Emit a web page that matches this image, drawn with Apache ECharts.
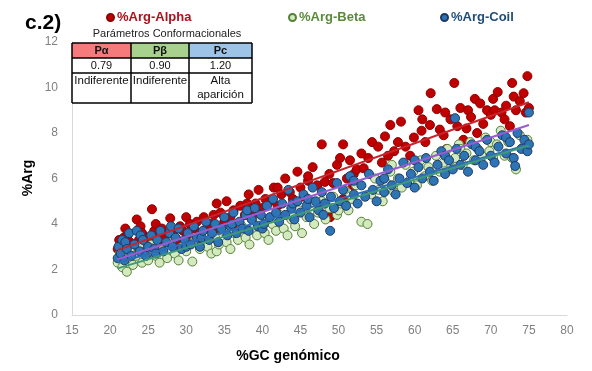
<!DOCTYPE html>
<html>
<head>
<meta charset="utf-8">
<script src="https://cdn.jsdelivr.net/npm/echarts@6/dist/echarts.min.js"></script>
<style>
  html, body { margin: 0; padding: 0; background: #fff; }
  #chart { width: 592px; height: 371px; }
</style>
</head>
<body>
<div id="chart"></div>
<script>
// %Arg per structural class vs. genomic GC content, one [GC, %Arg] pair per genome
const alphaPoints = [
  [21.0,2.9],[21.2,3.3],[21.5,3.1],[21.8,3.4],[22.0,2.7],[22.0,3.8],[22.3,3.5],[22.6,3.2],[23.0,3.0],[23.5,4.2],[23.8,3.3],
  [24.0,3.9],[24.2,3.6],[24.6,2.9],[25.0,3.4],[25.5,4.65],[25.8,3.7],[26.0,4.0],[26.3,3.1],[26.8,3.8],[27.2,3.5],[27.9,4.25],[28.3,3.6],
  [28.8,3.3],[29.2,3.9],[29.6,3.7],[30.0,4.3],[30.1,3.5],[30.5,4.0],[31.0,3.8],[31.4,4.1],[31.8,3.6],[32.3,4.3],[32.8,3.9],
  [33.0,3.5],[33.2,4.0],[33.6,4.4],[34.0,3.7],[34.0,4.9],[34.5,4.5],[35.0,4.1],[35.3,5.0],[35.8,4.3],[36.2,4.6],[36.7,4.0],
  [37.1,4.8],[37.7,4.4],[38.0,4.9],[38.2,5.3],[38.6,4.5],[39.0,4.2],[39.1,4.9],[39.5,5.5],[40.0,4.7],[40.4,5.1],[41.0,5.0],
  [41.5,5.6],[42.0,4.8],[42.0,5.6],[42.5,5.3],[43.0,6.0],[43.6,5.4],[44.0,5.1],[44.5,4.6],[44.6,6.3],[45.0,5.6],[45.5,5.2],
  [46.0,5.9],[46.0,6.1],[46.6,6.5],[47.2,5.7],[47.8,7.5],[48.2,5.85],[48.8,6.2],[48.9,4.3],[49.3,5.8],[49.8,6.6],[50.2,6.9],
  [50.6,7.5],[50.6,5.1],[51.1,6.0],[51.5,6.8],[51.9,5.7],[52.0,6.2],[52.4,6.4],[53.0,7.1],[53.3,6.45],[53.9,6.9],[54.4,7.6],
  [55.2,7.4],[55.7,6.7],[56.1,7.85],[56.5,7.0],[56.8,8.35],[57.3,7.2],[57.8,7.6],[58.2,8.5],[58.8,7.4],[59.4,7.0],[59.9,7.8],
  [60.5,9.0],[60.9,8.1],[61.0,8.6],[61.4,7.6],[62.0,8.35],[62.1,9.75],[62.9,9.05],[63.3,8.15],[63.8,7.9],[64.0,8.9],[64.2,7.3],[64.7,8.6],
  [65.2,10.2],[65.6,8.3],[66.0,9.1],[66.4,7.7],[66.8,8.2],[67.0,9.0],[67.4,8.7],[67.9,9.5],[68.2,8.0],[68.6,9.3],[69.0,8.4],
  [69.5,9.0],[70.0,8.8],[70.3,9.5],[70.5,9.0],[70.9,9.8],[71.4,8.9],[71.8,8.6],[72.0,9.2],[72.5,8.3],[72.8,10.2],[73.0,9.6],[73.3,9.0],
  [73.8,9.4],[74.3,9.75],[74.6,8.9],[74.8,10.5],[75.0,9.1]
];
const betaPoints = [
  [21.0,2.3],[21.3,2.7],[21.6,2.1],[22.0,2.5],[22.2,1.9],[22.6,2.8],[23.0,2.2],[23.4,2.6],[23.8,3.0],[24.2,2.3],
  [24.6,2.7],[25.0,2.4],[25.5,3.1],[26.0,2.6],[26.0,3.0],[26.5,2.3],[27.0,2.9],[27.5,2.5],[28.0,3.2],[28.5,2.7],[29.0,2.4],
  [29.5,3.0],[30.0,2.8],[30.8,2.35],[31.2,3.3],[31.8,2.9],[32.3,3.5],[32.8,3.0],[33.3,2.7],[33.8,3.4],[34.0,2.8],[34.3,3.1],
  [34.8,3.7],[35.3,3.2],[35.8,2.9],[36.3,3.6],[36.8,3.3],[37.3,3.9],[37.8,3.4],[38.3,3.1],[38.8,3.8],[39.3,3.5],
  [39.8,4.2],[40.0,3.9],[40.3,3.6],[40.8,3.3],[41.3,4.0],[41.8,3.7],[42.3,4.4],[42.8,3.8],[43.3,3.5],[43.8,4.2],[44.0,4.3],[44.3,3.9],
  [44.8,4.6],[45.2,3.6],[45.8,4.3],[46.3,4.8],[46.8,4.0],[47.3,4.5],[47.8,5.0],[48.3,4.2],[48.8,4.7],[49.3,5.2],
  [49.8,4.4],[50.0,4.6],[50.3,4.9],[50.8,5.5],[51.3,4.6],[51.8,5.1],[52.3,5.7],[53.0,4.1],[53.8,4.0],[54.3,5.3],[54.8,6.0],
  [55.3,5.5],[55.8,5.0],[56.3,5.8],[56.8,6.3],[57.0,6.6],[57.3,5.4],[57.8,6.0],[58.3,5.6],[58.8,6.6],[59.3,5.9],[59.8,6.3],
  [60.3,5.7],[60.8,6.8],[61.3,6.1],[61.8,6.5],[62.3,5.9],[62.8,7.0],[63.3,6.3],[63.8,6.7],[64.3,7.3],[64.8,6.5],
  [65.3,6.9],[65.8,7.5],[66.0,7.3],[66.3,6.6],[66.8,7.1],[67.3,7.6],[67.8,6.8],[68.3,7.3],[68.8,7.0],[69.3,7.8],[69.8,7.2],
  [70.0,7.6],[70.3,6.9],[70.8,7.5],[71.3,8.1],[71.8,7.0],[72.3,7.6],[72.8,6.9],[73.3,6.4],[73.8,7.9],[74.3,7.4],[74.8,7.7]
];
const coilPoints = [
  [21.0,2.5],[21.1,3.0],[21.4,2.7],[21.6,3.3],[21.9,2.4],[22.0,3.2],[22.2,2.9],[22.5,3.6],[22.8,2.6],[23.2,3.1],[23.5,3.7],
  [23.9,2.8],[24.0,3.5],[24.3,3.3],[24.7,2.6],[25.0,3.0],[25.4,3.5],[25.8,2.9],[26.0,2.7],[26.2,3.3],[26.6,3.7],[27.0,2.8],[27.4,3.2],
  [27.8,3.6],[28.0,3.9],[28.2,3.0],[28.6,3.4],[29.0,3.8],[29.4,2.9],[29.8,3.3],[30.0,3.0],[30.2,3.6],[30.6,3.1],[31.0,3.9],[31.4,3.4],
  [31.8,3.0],[32.0,3.4],[32.2,3.7],[32.6,4.1],[33.0,3.3],[33.4,3.6],[33.8,4.0],[34.2,3.2],[34.6,3.8],[35.0,4.3],[35.4,3.5],
  [35.8,3.9],[36.0,4.0],[36.2,4.5],[36.6,3.6],[37.0,4.1],[37.4,3.8],[37.8,4.4],[38.0,4.6],[38.2,3.7],[38.6,4.2],[39.0,4.7],[39.4,3.9],
  [39.8,4.4],[40.0,3.8],[40.2,4.0],[40.6,4.8],[41.0,4.3],[41.4,5.1],[41.8,4.5],[42.2,4.1],[42.6,4.9],[43.0,4.4],[43.4,5.5],
  [43.8,4.7],[44.0,4.9],[44.2,4.2],[44.6,5.0],[45.0,4.5],[45.4,5.3],[45.8,4.8],[46.0,5.1],[46.2,4.3],[46.6,5.6],[47.0,5.0],[47.4,4.6],
  [47.8,5.4],[48.0,4.4],[48.2,4.9],[48.9,3.7],[49.0,5.2],[49.4,4.7],[49.8,5.8],[50.2,5.0],[50.6,5.5],[51.0,4.8],[51.5,6.1],
  [52.0,5.3],[52.0,5.9],[52.5,4.9],[53.0,5.7],[53.5,5.2],[54.0,6.2],[54.5,5.5],[55.0,5.0],[55.5,5.9],[56.0,5.4],[56.0,6.0],[56.5,6.4],
  [57.0,5.7],[57.5,5.3],[58.0,6.0],[58.5,6.7],[59.0,5.8],[59.5,6.2],[60.0,5.6],[60.0,6.8],[60.5,6.5],[61.0,6.0],[61.5,6.9],
  [62.0,6.3],[62.5,5.9],[63.0,6.6],[63.5,7.2],[64.0,6.2],[64.0,7.0],[64.5,6.8],[65.0,6.4],[65.3,8.65],[65.5,7.3],[66.0,6.6],
  [66.5,7.0],[67.0,6.3],[67.5,7.5],[68.0,6.8],[68.0,7.4],[68.5,7.2],[69.0,6.6],[69.5,7.7],[70.0,7.0],[70.5,6.7],[71.0,7.4],
  [71.5,7.9],[72.0,7.1],[72.0,7.8],[72.5,7.6],[73.0,6.9],[73.2,6.55],[73.5,8.0],[74.0,7.3],[74.4,7.7],[74.8,7.2],[75.0,8.9],
  [75.0,7.5]
];

// Linear trend lines (end points)
const trendAlpha = [[21, 2.85], [75, 9.35]];
const trendMixed = [[21, 2.45], [75, 8.35]];
const trendCoil  = [[21, 2.3],  [75, 7.5]];
const trendBeta  = [[21, 2.05], [75, 7.45]];

// Conformational parameter table
const paramHeaders = ['Pα', 'Pβ', 'Pc'];
const paramValues  = ['0.79', '0.90', '1.20'];
const paramNotes   = ['Indiferente', 'Indiferente', 'Alta\naparición'];

const xTicks = { min: 15, max: 80, step: 5 };
const yTicks = { min: 0, max: 12, step: 2 };

const FONT = 'Liberation Sans, Arial, sans-serif';

const chart = echarts.init(document.getElementById('chart'), null, { renderer: 'canvas' });

// table geometry
const colX = [72, 131, 189, 252];
const rowY = [43, 58, 73, 103];
const headerFill = ['#f47a7c', '#a9d18e', '#9dc3e6'];

const tableGraphics = [];
for (let c = 0; c < 3; c++) {
  tableGraphics.push({
    type: 'rect', shape: { x: colX[c], y: rowY[0], width: colX[c + 1] - colX[c], height: rowY[1] - rowY[0] },
    style: { fill: headerFill[c] }, z: 100
  });
  tableGraphics.push({
    type: 'rect', shape: { x: colX[c], y: rowY[1], width: colX[c + 1] - colX[c], height: rowY[3] - rowY[1] },
    style: { fill: '#fff' }, z: 100
  });
  const cx = (colX[c] + colX[c + 1]) / 2;
  tableGraphics.push({
    type: 'text', x: cx, y: (rowY[0] + rowY[1]) / 2 + 0.5, z: 102,
    style: { text: paramHeaders[c], font: 'bold 11px ' + FONT, fill: '#111', textAlign: 'center', textVerticalAlign: 'middle' }
  });
  tableGraphics.push({
    type: 'text', x: cx, y: (rowY[1] + rowY[2]) / 2 + 0.5, z: 102,
    style: { text: paramValues[c], font: '11px ' + FONT, fill: '#111', textAlign: 'center', textVerticalAlign: 'middle' }
  });
  tableGraphics.push({
    type: 'text', x: cx, y: rowY[2] + 1, z: 102,
    style: { text: paramNotes[c], font: '11.5px ' + FONT, fill: '#111', textAlign: 'center', textVerticalAlign: 'top', lineHeight: 14 }
  });
}
// table borders
rowY.forEach(y => tableGraphics.push({
  type: 'line', shape: { x1: colX[0], y1: y, x2: colX[3], y2: y }, style: { stroke: '#000', lineWidth: 1.5 }, z: 103
}));
colX.forEach(x => tableGraphics.push({
  type: 'line', shape: { x1: x, y1: rowY[0], x2: x, y2: rowY[3] }, style: { stroke: '#000', lineWidth: 1.5 }, z: 103
}));

function legendAt(left, name, color) {
  return {
    left: left, top: 6, data: [name], icon: 'circle', itemWidth: 7, itemHeight: 7, itemGap: 0,
    selectedMode: false,
    textStyle: { fontFamily: FONT, fontSize: 13, fontWeight: 'bold', color: color, padding: [0, 0, 0, -2] }
  };
}

function scatter(name, data, fill, border) {
  return {
    name, type: 'scatter', data, symbol: 'circle', symbolSize: 9,
    itemStyle: { color: fill, borderColor: border, borderWidth: 1, opacity: 1 },
    emphasis: { disabled: true }
  };
}
function trend(data, color) {
  return {
    type: 'line', data, showSymbol: false, symbol: 'none', silent: true, z: 5,
    lineStyle: { color, width: 2 }
  };
}

chart.setOption({
  animation: false,
  backgroundColor: '#fff',
  grid: { left: 72, right: 25, top: 42, bottom: 56 },
  legend: [
    legendAt(101, '%Arg-Alpha', '#b0101c'),
    legendAt(283, '%Arg-Beta', '#5b8a3a'),
    legendAt(435, '%Arg-Coil', '#1f4e79')
  ],
  xAxis: {
    type: 'value', min: xTicks.min, max: xTicks.max, interval: xTicks.step,
    axisLine: { show: true, lineStyle: { color: '#d9d9d9', width: 1 } },
    axisTick: { show: false }, splitLine: { show: false },
    axisLabel: { color: '#808080', fontSize: 12, fontFamily: FONT, margin: 10 }
  },
  yAxis: {
    type: 'value', min: yTicks.min, max: yTicks.max, interval: yTicks.step,
    axisLine: { show: true, lineStyle: { color: '#d9d9d9', width: 1 } },
    axisTick: { show: false }, splitLine: { show: false },
    axisLabel: { color: '#808080', fontSize: 12, fontFamily: FONT, margin: 14 }
  },
  series: [
    scatter('%Arg-Alpha', alphaPoints, '#c00000', '#8e0000'),
    scatter('%Arg-Beta', betaPoints, '#d4e9c0', '#548235'),
    scatter('%Arg-Coil', coilPoints, '#2e75b6', '#1f3864'),
    trend(trendAlpha, '#c8232c'),
    trend(trendMixed, '#9a5bd0'),
    trend(trendCoil, '#2f6cb8'),
    trend(trendBeta, '#3d9a78')
  ],
  graphic: [
    { type: 'text', left: 25, top: 13, style: { text: 'c.2)', font: 'bold 21px ' + FONT, fill: '#000' } },
    { type: 'text', x: 167, y: 34, z: 102,
      style: { text: 'Parámetros Conformacionales', font: '11px ' + FONT, fill: '#222', textAlign: 'center', textVerticalAlign: 'middle' } },
    { type: 'text', x: 288, y: 356,
      style: { text: '%GC genómico', font: 'bold 14px ' + FONT, fill: '#000', textAlign: 'center', textVerticalAlign: 'middle' } },
    { type: 'text', x: 28, y: 178, rotation: Math.PI / 2,
      style: { text: '%Arg', font: 'bold 14px ' + FONT, fill: '#000', textAlign: 'center', textVerticalAlign: 'middle' } }
  ].concat(tableGraphics)
});
</script>
</body>
</html>
